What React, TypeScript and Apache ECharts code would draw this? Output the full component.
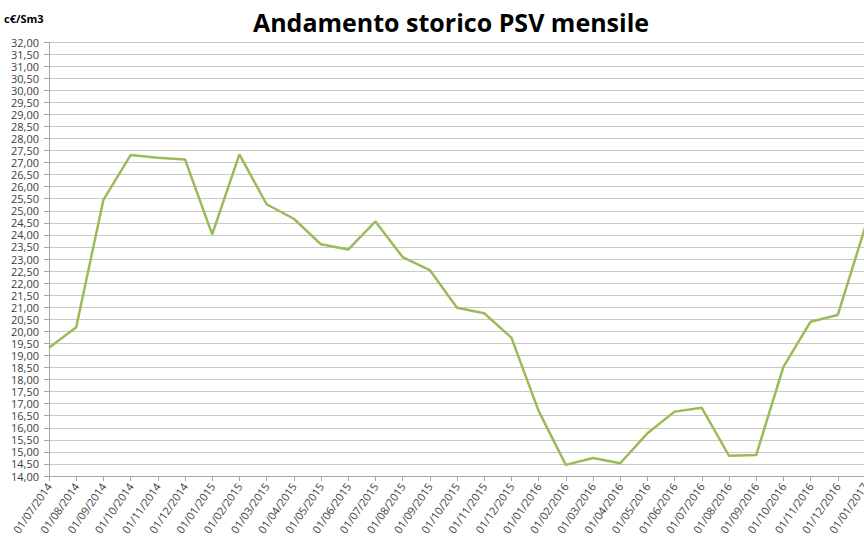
import React, { useEffect, useRef } from "react";
import * as echarts from "echarts";

const categories: string[] = [
  "01/07/2014", "01/08/2014", "01/09/2014", "01/10/2014", "01/11/2014", "01/12/2014",
  "01/01/2015", "01/02/2015", "01/03/2015", "01/04/2015", "01/05/2015", "01/06/2015",
  "01/07/2015", "01/08/2015", "01/09/2015", "01/10/2015", "01/11/2015", "01/12/2015",
  "01/01/2016", "01/02/2016", "01/03/2016", "01/04/2016", "01/05/2016", "01/06/2016",
  "01/07/2016", "01/08/2016", "01/09/2016", "01/10/2016", "01/11/2016", "01/12/2016",
  "01/01/2017",
];

const psvValues: number[] = [
  19.32, 20.17, 25.45, 27.31, 27.2, 27.13,
  24.02, 27.34, 25.27, 24.67, 23.61, 23.39,
  24.56, 23.08, 22.54, 20.98, 20.75, 19.74,
  16.7, 14.46, 14.75, 14.53, 15.77, 16.67,
  16.83, 14.84, 14.87, 18.53, 20.4, 20.68,
  24.3,
];

const titleText = "Andamento storico PSV mensile";
const unitText = "c€/Sm3";

export default function App() {
  const ref = useRef<HTMLDivElement>(null);
  useEffect(() => {
    if (!ref.current) return;
    const chart = echarts.init(ref.current, null, { renderer: "svg" });
    chart.setOption({
      animation: false,
      backgroundColor: "#ffffff",
      title: {
        text: titleText,
        left: 446,
        top: 4,
        textAlign: "center",
        textStyle: {
          fontFamily: "Open Sans",
          fontWeight: "bold",
          fontSize: 25,
          color: "#000000",
        },
      },
      graphic: [
        {
          type: "text",
          left: 4,
          top: 13,
          style: {
            text: unitText,
            fontFamily: "Open Sans",
            fontWeight: "bold",
            fontSize: 11,
            fill: "#000000",
          },
        },
      ],
      grid: {
        left: 49,
        top: 42,
        height: 434,
        width: 816,
        containLabel: false,
        outerBoundsMode: "none",
      },
      xAxis: {
        type: "category",
        data: categories,
        boundaryGap: false,
        axisLine: { show: true, lineStyle: { color: "#a6a6a6", width: 1 } },
        axisTick: { show: true, length: 5, lineStyle: { color: "#a6a6a6" }, alignWithLabel: true },
        axisLabel: {
          rotate: 55,
          interval: 0,
          margin: 8,
          fontFamily: "Open Sans",
          fontSize: 11,
          color: "#404040",
        },
        splitLine: { show: false },
      },
      yAxis: {
        type: "value",
        min: 14,
        max: 32,
        interval: 0.5,
        axisLine: { show: true, lineStyle: { color: "#a6a6a6", width: 1 } },
        axisTick: { show: true, length: 5, lineStyle: { color: "#a6a6a6" } },
        axisLabel: {
          margin: 10,
          fontFamily: "Open Sans",
          fontSize: 11,
          lineHeight: 11,
          color: "#404040",
          formatter: (v: number) => v.toFixed(2).replace(".", ","),
        },
        splitLine: { show: true, lineStyle: { color: "#c8c8c8", width: 1 } },
      },
      series: [
        {
          type: "line",
          data: psvValues,
          symbol: "none",
          lineStyle: { color: "#9bbb59", width: 2.5 },
          itemStyle: { color: "#9bbb59" },
        },
      ],
    });
    return () => chart.dispose();
  }, []);
  return <div ref={ref} style={{ width: 864, height: 544, position: "absolute", left: 0, top: 0 }} />;
}
